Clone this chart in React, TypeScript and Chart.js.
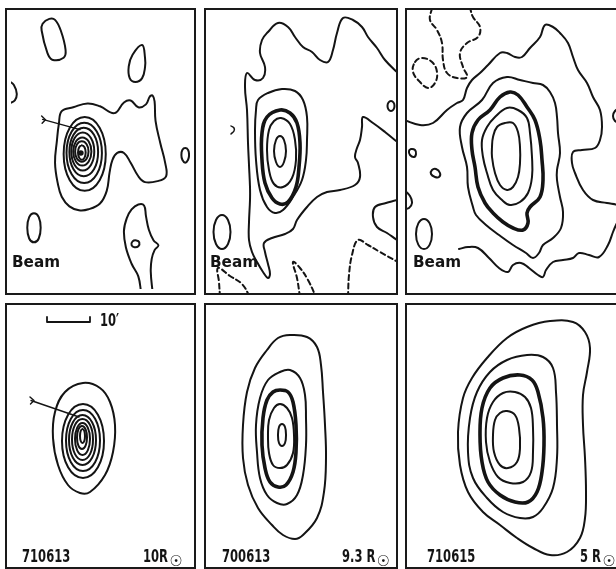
import React, { useEffect, useRef } from "react";
import { Chart, registerables } from "chart.js";

Chart.register(...registerables);

type Pt = [number, number];

// ---------- Panel 1 : 710613 radio map (top left) ----------
const p1Outer: Pt[] = [[60,110],[72,106],[87,102],[100,105],[115,112],[125,101],[132,99],[140,106],[148,103],[152,95],[155,94],[157,100],[158,120],[163,143],[168,163],[169,177],[160,182],[147,183],[140,177],[132,163],[125,153],[118,153],[113,160],[110,173],[107,192],[100,205],[88,211],[78,212],[68,208],[60,198],[56,185],[53,163],[55,140],[57,123]];
const p1Ring1: Pt[] = [[84,116],[99.6,127],[106,154],[99.6,181],[84,192],[68.4,181],[62,154],[68.4,127]];
const p1Ring2: Pt[] = [[83.5,122],[96.6,131],[102,153],[96.6,175],[83.5,184],[70.4,175],[65,153],[70.4,131]];
const p1Ring3: Pt[] = [[83,127],[93.7,134.2],[98,152],[93.7,169.8],[83,177],[72.3,169.8],[68,152],[72.3,134.2]];
const p1Ring4: Pt[] = [[82,132],[90.5,137.7],[94,151.5],[90.5,165.3],[82,171],[73.5,165.3],[70,151.5],[73.5,137.7]];
const p1Ring5: Pt[] = [[81.5,137],[88.2,141.2],[91,151.5],[88.2,161.8],[81.5,166],[74.8,161.8],[72,151.5],[74.8,141.2]];
const p1Ring6: Pt[] = [[81,141],[86,144],[88,151.5],[86,159],[81,162],[76,159],[74,151.5],[76,144]];
const p1Ring7: Pt[] = [[81,145],[83.8,147.2],[85,152.5],[83.8,157.8],[81,160],[78.2,157.8],[77,152.5],[78.2,147.2]];
const p1Peak: Pt[] = [[80,153]];
const p1Blob: Pt[] = [[40,20],[47,15],[53,16],[59,27],[64,47],[62,55],[50,57],[45,50],[39,27]];
const p1Drop: Pt[] = [[144,42],[147,55],[147,65],[144,76],[137,80],[131,76],[130,64],[134,52]];
const p1EdgeLeft: Pt[] = [[5,79],[10,83],[13,92],[11,99],[5,102]];
const p1EdgeRight: Pt[] = [[189,148],[192,150],[193,155],[192,160],[189,163],[186,160],[185,155],[186,150]];
const p1Beam: Pt[] = [[31,215],[36,219],[38,230],[36,241],[31,245],[26,241],[24,230],[26,219]];
const p1Lower: Pt[] = [[143,297],[140,280],[133,267],[127,250],[125,233],[128,220],[133,211],[140,206],[146,207],[148,218],[151,232],[156,243],[161,248],[157,253],[154,262],[153,275],[155,297]];
const p1LowerHole: Pt[] = [[134,244],[138,243],[141,245],[140,249],[136,250],[133,248]];
const p1Arrow: Pt[] = [[40,118.5],[79,129]];
const p1ArrowTail: Pt[] = [[39,115],[43,118.8],[39.5,122.5]];

// ---------- Panel 2 : 700613 radio map (top middle) ----------
const p2Outer: Pt[] = [[402,146],[385,132],[373,123],[363,117],[362,127],[360,140],[357,148],[355,157],[358,163],[360,177],[355,185],[340,190],[327,192],[317,197],[307,207],[297,220],[293,229],[285,234],[272,238],[264,243],[265,252],[268,264],[270,274],[268,278],[263,272],[257,262],[252,252],[249,240],[249,222],[250,200],[250,187],[249,165],[248,143],[247,110],[245,87],[247,73],[255,80],[263,78],[265,67],[260,53],[262,40],[268,32],[278,23],[288,27],[295,37],[303,47],[312,52],[320,60],[328,62],[333,50],[337,33],[343,18],[353,20],[362,27],[368,37],[377,48],[385,60],[397,72],[402,76]];
const p2Bump: Pt[] = [[402,198],[397,200],[386,203],[375,207],[373,217],[377,227],[387,233],[397,240],[402,243]];
const p2C2: Pt[] = [[258,100],[268,93],[282,89],[295,91],[303,100],[307,117],[307,140],[306,160],[302,180],[293,197],[283,210],[275,213],[267,207],[260,190],[256,160],[255,130],[256,110]];
const p2C3: Pt[] = [[280,110],[290,113],[297,123],[300,143],[299,167],[296,187],[288,202],[280,204],[272,198],[265,183],[262,160],[262,133],[267,117]];
const p2C4: Pt[] = [[281,118],[290,124],[295,140],[296,160],[292,178],[283,187],[274,184],[269,170],[267,150],[269,130],[274,121]];
const p2C5: Pt[] = [[280,136],[284,140],[286,151],[284,162],[280,167],[276,162],[274,151],[276,140]];
const p2Circle: Pt[] = [[391,101],[393.5,102.5],[394.5,106],[393.5,109.5],[391,111],[388.5,109.5],[387.5,106],[388.5,102.5]];
const p2Tick: Pt[] = [[231,126],[234,128],[234,131],[231,134]];
const p2Beam: Pt[] = [[222,215],[228,220],[230.5,232],[228,244],[222,249],[216,244],[213.5,232],[216,220]];
const p2Neg1: Pt[] = [[220,297],[219,282],[218,268],[230,276],[242,284],[250,297]];
const p2Neg2: Pt[] = [[300,297],[297,278],[293,262],[300,268],[308,280],[316,297]];
const p2Neg3: Pt[] = [[348,297],[349,275],[352,255],[358,240],[368,245],[380,252],[398,262]];

// ---------- Panel 3 : 710615 radio map (top right) ----------
const p3Outer: Pt[] = [[404,120],[420,125],[433,123],[447,110],[457,103],[463,100],[467,88],[472,80],[480,73],[488,65],[500,53],[507,53],[515,57],[522,57],[530,48],[540,37],[545,25],[553,27],[560,33],[568,43],[573,57],[578,70],[587,83],[593,97],[600,110],[602,127],[600,140],[595,148],[582,150],[573,152],[572,163],[575,173],[583,190],[593,200],[607,203],[619,206],[621,215],[616,225],[613,232],[608,245],[599,257],[589,255],[579,253],[573,258],[563,260],[553,262],[546,270],[543,277],[538,275],[529,268],[521,263],[513,265],[508,272],[499,268],[489,258],[478,248],[468,247],[459,249]];
const p3C2: Pt[] = [[460,127],[467,113],[482,100],[493,83],[507,77],[520,80],[533,83],[543,85],[550,92],[555,103],[557,117],[558,133],[560,153],[557,170],[557,180],[560,197],[563,212],[561,228],[553,238],[543,245],[539,253],[533,258],[526,253],[513,245],[499,235],[486,225],[476,215],[473,207],[468,187],[467,167],[462,147]];
const p3C3: Pt[] = [[472,133],[478,120],[490,110],[500,97],[510,92],[518,95],[527,107],[535,120],[540,140],[542,160],[543,180],[540,197],[530,207],[527,213],[528,223],[523,230],[513,228],[503,222],[493,213],[485,203],[478,187],[475,167],[472,150]];
const p3C4: Pt[] = [[482,140],[487,127],[495,117],[507,108],[518,110],[527,118],[530,133],[532,157],[532,177],[528,193],[520,202],[510,205],[502,200],[493,190],[487,173],[483,157]];
const p3C5: Pt[] = [[493,137],[497,127],[505,123],[513,123],[518,132],[520,147],[520,163],[518,177],[513,187],[507,190],[500,185],[495,173],[492,157],[492,147]];
const p3Neg1: Pt[] = [[432,8],[430,20],[437,30],[442,43],[443,60],[447,73],[457,78],[467,77],[463,67],[460,53],[467,43],[478,37],[480,27],[473,17],[470,8]];
const p3Neg2: Pt[] = [[415,62],[422,58],[432,62],[437,72],[435,83],[428,88],[420,82],[413,72]];
const p3Blob1: Pt[] = [[411,149],[415,150],[416,154],[414,157],[410,155],[409,151]];
const p3Blob2: Pt[] = [[432,170],[436,169],[440,173],[439,177],[435,177],[431,174]];
const p3EdgeLeft: Pt[] = [[404,190],[410,196],[412,203],[409,208],[404,209]];
const p3EdgeRight: Pt[] = [[620,108],[615,111],[613,116],[615,121],[620,123]];
const p3Beam: Pt[] = [[424,219],[429.7,223.4],[432,234],[429.7,244.6],[424,249],[418.3,244.6],[416,234],[418.3,223.4]];

// ---------- Panel 4 : 710613 model (bottom left) ----------
const p4Outer: Pt[] = [[83,383],[100,388],[110,402],[115,425],[113,452],[105,475],[90,492],[80,493],[68,485],[58,465],[53,438],[55,412],[65,392]];
const p4C2: Pt[] = [[83,404],[97.9,414.7],[104,441],[97.9,467.3],[83,478],[68.1,467.3],[62,441],[68.1,414.7]];
const p4C3: Pt[] = [[83,410],[95.1,418.8],[100,440.5],[95.1,462.2],[83,471],[70.9,462.2],[66,440.5],[70.9,418.8]];
const p4C4: Pt[] = [[82.5,415],[92.1,422.2],[96,440],[92.1,457.8],[82.5,465],[72.9,457.8],[69,440],[72.9,422.2]];
const p4C5: Pt[] = [[82.5,419],[90,424.9],[93,439.5],[90,454.1],[82.5,460],[75,454.1],[72,439.5],[75,424.9]];
const p4C6: Pt[] = [[82.5,423],[87.8,427.6],[90,439],[87.8,450.4],[82.5,455],[77.2,450.4],[75,439],[77.2,427.6]];
const p4C7: Pt[] = [[82,426],[85.6,429.3],[87,437.5],[85.6,445.7],[82,449],[78.4,445.7],[77,437.5],[78.4,429.3]];
const p4C8: Pt[] = [[82.5,429],[84.3,431],[85,436],[84.3,441],[82.5,443],[80.7,441],[80,436],[80.7,431]];
const p4Arrow: Pt[] = [[31,400.5],[79,417]];
const p4ArrowTail: Pt[] = [[30,397],[34,400.6],[30.5,404]];
const p4ScaleBar: Pt[] = [[47,317],[47,322],[90,322],[90,317]];

// ---------- Panel 5 : 700613 model (bottom middle) ----------
const p5Outer: Pt[] = [[290,335],[307,337],[317,347],[321,365],[323,392],[325,425],[326,458],[324,492],[317,518],[303,535],[295,539],[283,535],[272,525],[258,508],[248,485],[243,458],[243,425],[247,392],[255,368],[267,350],[278,338]];
const p5C2: Pt[] = [[280,372],[290,370],[300,378],[305,395],[306,418],[306,445],[303,475],[297,495],[287,504],[277,503],[267,495],[260,478],[257,452],[256,425],[260,398],[268,380]];
const p5C3: Pt[] = [[280,390],[288,392],[293,402],[296,425],[296,452],[293,472],[286,485],[278,487],[270,482],[265,468],[262,445],[263,418],[267,400],[273,392]];
const p5C4: Pt[] = [[280,404],[287,408],[292,418],[294,435],[293,453],[287,465],[280,468],[273,465],[269,453],[268,437],[269,420],[274,408]];
const p5C5: Pt[] = [[282,424],[285,427],[286,435],[285,443],[282,446],[279,443],[278,435],[279,427]];

// ---------- Panel 6 : 710615 model (bottom right) ----------
const p6Outer: Pt[] = [[573,322],[585,332],[590,348],[587,372],[583,395],[583,425],[585,458],[586,492],[585,518],[580,538],[567,552],[550,555],[533,548],[517,538],[500,525],[483,512],[468,492],[460,465],[458,432],[463,398],[472,378],[487,358],[507,338],[527,327],[550,321]];
const p6C2: Pt[] = [[527,355],[543,357],[553,368],[556,392],[557,425],[557,458],[553,488],[543,508],[533,517],[520,518],[503,512],[487,498],[473,478],[468,452],[470,418],[477,392],[490,372],[507,360]];
const p6C3: Pt[] = [[520,375],[532,380],[538,392],[543,418],[544,445],[542,472],[537,492],[528,502],[515,502],[500,495],[488,482],[482,462],[480,435],[482,408],[490,388],[503,378]];
const p6C4: Pt[] = [[515,392],[525,397],[531,408],[533,428],[533,452],[531,472],[523,482],[510,483],[498,477],[490,462],[486,442],[487,418],[493,402],[503,393]];
const p6C5: Pt[] = [[507,411],[515,415],[519,428],[520,448],[517,462],[508,468],[500,465],[494,452],[493,435],[495,420],[500,413]];

// ---------- labels ----------
const dateLabels = ["710613", "700613", "710615"];
const distLabels = ["10", "9.3 ", "5 "];
const beamLabel = "Beam";
const scaleLabel = "10\u2032";
const sunSymbol = "\u2609";

const INK = "#141414";
const FONT = '"DejaVu Sans", "Liberation Sans", sans-serif';

type Curve = { pts: Pt[]; closed?: boolean; thick?: boolean; dashed?: boolean; tension?: number; width?: number };

type PanelSpec = { left: number; top: number; width: number; height: number; curves: Curve[]; dots?: Pt[] };

const panels: PanelSpec[] = [
  {
    left: 5, top: 8, width: 191, height: 287,
    curves: [
      { pts: p1Outer, closed: true },
      { pts: p1Ring1, closed: true }, { pts: p1Ring2, closed: true }, { pts: p1Ring3, closed: true },
      { pts: p1Ring4, closed: true }, { pts: p1Ring5, closed: true }, { pts: p1Ring6, closed: true },
      { pts: p1Ring7, closed: true },
      { pts: p1Blob, closed: true }, { pts: p1Drop, closed: true }, { pts: p1EdgeLeft },
      { pts: p1EdgeRight, closed: true }, { pts: p1Beam, closed: true },
      { pts: p1Lower }, { pts: p1LowerHole, closed: true },
      { pts: p1Arrow, tension: 0, width: 1.4 }, { pts: p1ArrowTail, tension: 0, width: 1.4 },
    ],
    dots: p1Peak,
  },
  {
    left: 204, top: 8, width: 194, height: 287,
    curves: [
      { pts: p2Outer }, { pts: p2Bump },
      { pts: p2C2, closed: true }, { pts: p2C3, closed: true, thick: true },
      { pts: p2C4, closed: true }, { pts: p2C5, closed: true },
      { pts: p2Circle, closed: true }, { pts: p2Tick, width: 1.5 }, { pts: p2Beam, closed: true },
      { pts: p2Neg1, dashed: true }, { pts: p2Neg2, dashed: true }, { pts: p2Neg3, dashed: true },
    ],
  },
  {
    left: 405, top: 8, width: 220, height: 287,
    curves: [
      { pts: p3Outer }, { pts: p3C2, closed: true }, { pts: p3C3, closed: true, thick: true },
      { pts: p3C4, closed: true }, { pts: p3C5, closed: true },
      { pts: p3Neg1, dashed: true }, { pts: p3Neg2, closed: true, dashed: true },
      { pts: p3Blob1, closed: true }, { pts: p3Blob2, closed: true },
      { pts: p3EdgeLeft }, { pts: p3EdgeRight }, { pts: p3Beam, closed: true },
    ],
  },
  {
    left: 5, top: 303, width: 191, height: 266,
    curves: [
      { pts: p4Outer, closed: true }, { pts: p4C2, closed: true }, { pts: p4C3, closed: true },
      { pts: p4C4, closed: true }, { pts: p4C5, closed: true }, { pts: p4C6, closed: true },
      { pts: p4C7, closed: true }, { pts: p4C8, closed: true },
      { pts: p4Arrow, tension: 0, width: 1.4 }, { pts: p4ArrowTail, tension: 0, width: 1.4 },
      { pts: p4ScaleBar, tension: 0, width: 1.8 },
    ],
  },
  {
    left: 204, top: 303, width: 194, height: 266,
    curves: [
      { pts: p5Outer, closed: true }, { pts: p5C2, closed: true }, { pts: p5C3, closed: true, thick: true },
      { pts: p5C4, closed: true }, { pts: p5C5, closed: true },
    ],
  },
  {
    left: 405, top: 303, width: 220, height: 266,
    curves: [
      { pts: p6Outer, closed: true }, { pts: p6C2, closed: true }, { pts: p6C3, closed: true, thick: true },
      { pts: p6C4, closed: true }, { pts: p6C5, closed: true },
    ],
  },
];

function toDataset(c: Curve) {
  const n0 = c.pts.length;
  const pts = c.closed ? [c.pts[n0 - 1], ...c.pts, c.pts[0], c.pts[1]] : c.pts;
  const n = pts.length;
  const ds: any = {
    data: pts.map(([x, y]) => ({ x, y })),
    showLine: true,
    borderColor: INK,
    backgroundColor: INK,
    borderWidth: c.width ?? (c.thick ? 3.6 : 2.0),
    borderDash: c.dashed ? [5, 3.5] : [],
    borderCapStyle: "round",
    borderJoinStyle: "round",
    pointRadius: 0,
    pointHoverRadius: 0,
    tension: c.tension ?? 0.4,
    fill: false,
  };
  if (c.closed) {
    ds.segment = {
      borderColor: (ctx: any) =>
        ctx.p0DataIndex === 0 || ctx.p1DataIndex === n - 1 ? "rgba(0,0,0,0)" : undefined,
    };
  }
  return ds;
}

function Panel({ spec }: { spec: PanelSpec }) {
  const ref = useRef<HTMLCanvasElement | null>(null);
  const b = 2;
  useEffect(() => {
    if (!ref.current) return;
    const datasets: any[] = spec.curves.map(toDataset);
    if (spec.dots) {
      datasets.push({
        data: spec.dots.map(([x, y]) => ({ x, y })),
        showLine: false,
        pointRadius: 2.8,
        pointBackgroundColor: INK,
        pointBorderWidth: 0,
      });
    }
    const chart = new Chart(ref.current, {
      type: "scatter",
      data: { datasets },
      options: {
        animation: false,
        responsive: false,
        devicePixelRatio: 1,
        events: [],
        layout: { padding: 0 },
        plugins: { legend: { display: false }, tooltip: { enabled: false } },
        scales: {
          x: { type: "linear", display: false, min: spec.left + b, max: spec.left + spec.width - b },
          y: { type: "linear", display: false, reverse: true, min: spec.top + b, max: spec.top + spec.height - b },
        },
      },
    });
    return () => chart.destroy();
  }, [spec]);
  return (
    <div
      style={{
        position: "absolute",
        left: spec.left,
        top: spec.top,
        width: spec.width,
        height: spec.height,
        border: `${b}px solid #1a1a1a`,
        boxSizing: "border-box",
        background: "#fff",
      }}
    >
      <canvas ref={ref} width={spec.width - 2 * b} height={spec.height - 2 * b} style={{ display: "block" }} />
    </div>
  );
}

const narrow: React.CSSProperties = {
  position: "absolute",
  fontFamily: FONT,
  fontSize: 17,
  fontWeight: "bold",
  lineHeight: "17px",
  color: INK,
  whiteSpace: "nowrap",
  transform: "scaleX(0.68)",
  transformOrigin: "left top",
};

const beamStyle: React.CSSProperties = {
  position: "absolute",
  fontFamily: FONT,
  fontSize: 16,
  fontWeight: "bold",
  lineHeight: "16px",
  color: INK,
  whiteSpace: "nowrap",
  transform: "scaleX(0.95)",
  transformOrigin: "left top",
};

const sun: React.CSSProperties = {
  display: "inline-block",
  fontSize: 15,
  fontWeight: "bold",
  position: "relative",
  top: 4,
  marginLeft: 2,
  transform: "scaleX(1.45)",
  transformOrigin: "left center",
};

export default function App() {
  const beamX = [12, 210, 413];
  const dateX = [22, 222, 427];
  const distX = [143, 342, 580];
  return (
    <div style={{ position: "absolute", left: 0, top: 0, width: 616, height: 569, overflow: "hidden", background: "#fff" }}>
      {panels.map((p, i) => (
        <Panel key={i} spec={p} />
      ))}
      {beamX.map((x, i) => (
        <div key={"b" + i} style={{ ...beamStyle, left: x, top: 253.5 }}>{beamLabel}</div>
      ))}
      <div style={{ ...narrow, left: 100, top: 312 }}>{scaleLabel}</div>
      {dateLabels.map((t, i) => (
        <div key={"d" + i} style={{ ...narrow, left: dateX[i], top: 548 }}>{t}</div>
      ))}
      {distLabels.map((t, i) => (
        <div key={"r" + i} style={{ ...narrow, left: distX[i], top: 548 }}>
          {t}R<span style={sun}>{sunSymbol}</span>
        </div>
      ))}
    </div>
  );
}
